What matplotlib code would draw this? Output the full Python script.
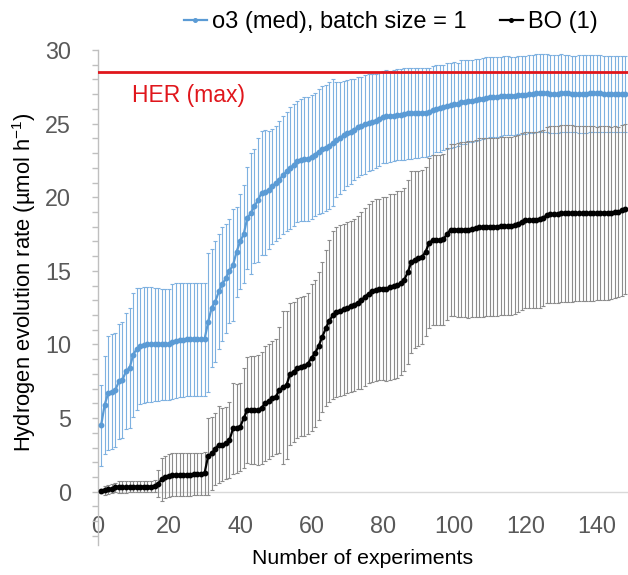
import numpy as np
import matplotlib
matplotlib.use("Agg")
import matplotlib.pyplot as plt
from matplotlib.ticker import MultipleLocator

plt.rcParams['font.family'] = ['Liberation Sans', 'DejaVu Sans']
plt.rcParams['mathtext.default'] = 'regular'

# experiment index 1..148
experiments = np.arange(1, 149)

o3_mean = [
    4.5, 5.9, 6.7, 6.8, 6.9, 7.5, 7.6, 8.2, 8.4, 9.3,
    9.7, 9.9, 9.95, 10.0, 10.0, 10.0, 10.0, 10.0, 10.0, 10.0,
    10.2, 10.25, 10.3, 10.3, 10.35, 10.35, 10.35, 10.35, 10.35, 10.35,
    11.5, 12.5, 12.9, 13.6, 14.1, 14.5, 15.0, 15.4, 16.3, 17.0,
    17.5, 18.6, 18.9, 19.4, 19.8, 20.3, 20.35, 20.5, 20.75, 20.95,
    21.2, 21.5, 21.75, 22.0, 22.2, 22.45, 22.55, 22.6, 22.6, 22.75,
    22.9, 23.1, 23.25, 23.35, 23.5, 23.7, 23.9, 24.05, 24.2, 24.35,
    24.45, 24.6, 24.75, 24.85, 24.95, 25.05, 25.1, 25.2, 25.3, 25.45,
    25.5, 25.5, 25.55, 25.6, 25.6, 25.65, 25.7, 25.7, 25.7, 25.7,
    25.75, 25.75, 25.8, 25.9, 26.0, 26.05, 26.1, 26.2, 26.25, 26.3,
    26.3, 26.45, 26.5, 26.55, 26.55, 26.6, 26.65, 26.7, 26.75, 26.8,
    26.8, 26.8, 26.85, 26.9, 26.9, 26.9, 26.9, 26.95, 26.95, 26.95,
    27.0, 27.0, 27.05, 27.05, 27.05, 27.05, 27.0, 27.0, 27.0, 27.05,
    27.05, 27.05, 27.0, 27.0, 27.0, 27.0, 27.0, 27.05, 27.05, 27.05,
    27.05, 27.0, 27.0, 27.0, 27.0, 27.0, 27.0, 27.0,
]
o3_err = [
    2.75, 3.35, 3.9, 3.9, 3.85, 3.9, 3.95, 3.95, 4.1, 4.2,
    4.15, 3.95, 3.95, 3.9, 3.9, 3.85, 3.85, 3.8, 3.8, 3.8,
    3.9, 3.9, 3.85, 3.85, 3.85, 3.85, 3.85, 3.85, 3.85, 3.85,
    4.7, 4.0, 4.1, 3.9, 3.85, 3.7, 3.55, 3.8, 3.05, 3.25,
    3.3, 3.45, 4.1, 3.85, 4.2, 4.2, 4.25, 4.0, 3.9, 3.9,
    3.95, 4.0, 4.05, 4.15, 4.15, 4.1, 4.15, 4.2, 4.2, 4.2,
    4.2, 4.25, 4.3, 4.3, 4.3, 4.3, 3.9, 3.8, 3.7, 3.6,
    3.55, 3.45, 3.4, 3.35, 3.35, 3.3, 3.25, 3.2, 3.2, 3.15,
    3.15, 3.1, 3.1, 3.1, 3.1, 3.1, 3.1, 3.1, 3.05, 3.05,
    3.05, 3.05, 3.0, 3.0, 2.95, 2.95, 2.9, 2.9, 2.9, 2.9,
    2.85, 2.85, 2.85, 2.8, 2.8, 2.8, 2.75, 2.75, 2.75, 2.7,
    2.7, 2.7, 2.7, 2.7, 2.7, 2.65, 2.65, 2.65, 2.65, 2.65,
    2.65, 2.65, 2.65, 2.65, 2.65, 2.65, 2.65, 2.65, 2.65, 2.65,
    2.6, 2.6, 2.6, 2.6, 2.65, 2.65, 2.65, 2.6, 2.6, 2.6,
    2.6, 2.6, 2.6, 2.6, 2.6, 2.6, 2.6, 2.6,
]

bo_mean = [
    0.05, 0.1, 0.15, 0.2, 0.3, 0.3, 0.3, 0.3, 0.35, 0.35,
    0.35, 0.35, 0.35, 0.35, 0.35, 0.4, 0.55, 0.85, 1.0, 1.1,
    1.15, 1.15, 1.15, 1.15, 1.15, 1.15, 1.2, 1.2, 1.2, 1.25,
    2.4, 2.6, 2.9, 3.2, 3.2, 3.3, 3.5, 4.3, 4.3, 4.4,
    5.0, 5.55, 5.55, 5.55, 5.55, 5.7, 6.0, 6.15, 6.35, 6.45,
    6.9, 7.1, 7.25, 8.0, 8.15, 8.4, 8.5, 8.55, 8.7, 9.1,
    9.4, 9.9, 10.5, 11.1, 11.6, 12.0, 12.2, 12.3, 12.4, 12.5,
    12.6, 12.7, 12.85, 13.0, 13.25, 13.45, 13.6, 13.7, 13.75, 13.8,
    13.8, 13.9, 13.95, 14.05, 14.15, 14.4, 14.9, 15.6, 15.75, 15.85,
    15.95, 16.3, 16.9, 17.1, 17.1, 17.1, 17.15, 17.5, 17.8, 17.8,
    17.8, 17.8, 17.8, 17.8, 17.85, 17.9, 17.95, 17.95, 18.0, 18.0,
    18.0, 18.0, 18.05, 18.05, 18.05, 18.05, 18.1, 18.2, 18.35, 18.45,
    18.45, 18.45, 18.45, 18.5, 18.6, 18.8, 18.85, 18.85, 18.85, 18.9,
    18.9, 18.9, 18.9, 18.9, 18.9, 18.9, 18.9, 18.9, 18.9, 18.9,
    18.95, 18.95, 18.95, 18.95, 19.0, 19.0, 19.1, 19.2,
]
bo_err = [
    0.15, 0.3, 0.3, 0.3, 0.3, 0.4, 0.4, 0.4, 0.4, 0.4,
    0.4, 0.4, 0.4, 0.4, 0.4, 0.4, 0.9, 1.45, 1.45, 1.45,
    1.45, 1.45, 1.45, 1.45, 1.45, 1.45, 1.45, 1.45, 1.45, 1.45,
    2.6, 2.5, 2.45, 2.6, 2.5, 2.45, 2.6, 3.1, 3.0, 3.0,
    3.4, 3.6, 3.65, 3.7, 3.75, 3.8, 3.9, 3.9, 3.9, 3.9,
    4.3, 5.2, 5.0, 4.8, 4.75, 4.75, 4.75, 4.75, 4.8, 5.0,
    5.0, 5.0, 5.1, 5.3, 5.5, 5.7, 5.8, 5.8, 5.8, 5.8,
    5.8, 5.85, 5.9, 6.0, 6.05, 6.1, 6.15, 6.15, 6.15, 6.2,
    6.25, 6.3, 6.3, 6.35, 6.25, 6.2, 6.25, 6.2, 6.0, 5.95,
    5.9, 5.75, 5.75, 5.8, 5.8, 5.8, 5.8, 5.85, 5.85, 5.85,
    5.9, 5.95, 5.95, 6.0, 6.0, 6.0, 6.05, 6.05, 6.05, 6.05,
    6.05, 6.05, 6.05, 6.05, 6.05, 6.05, 6.05, 6.0, 6.0, 6.0,
    6.0, 6.0, 6.0, 6.0, 6.0, 6.0, 6.0, 6.0, 6.0, 6.0,
    6.0, 6.0, 6.0, 5.95, 5.95, 5.95, 5.95, 5.95, 5.95, 5.9,
    5.9, 5.9, 5.9, 5.85, 5.85, 5.8, 5.8, 5.75,
]

her_max = 28.5
x_ticks = [0, 20, 40, 60, 80, 100, 120, 140]
y_ticks = [0, 5, 10, 15, 20, 25, 30]

blue = '#5B9BD5'
blue_err = '#7EB1E0'
gray_err = '#8C8C8C'
red = '#E0161C'
axis_gray = '#BFBFBF'
label_gray = '#595959'

fig = plt.figure(figsize=(6.28, 5.75), dpi=100)
ax = fig.add_axes([0.1553, 0.0527, 0.845, 0.8603])

# -------- series --------
eb_o3 = ax.errorbar(experiments, o3_mean, yerr=o3_err, color=blue, lw=1.6,
                    marker='o', ms=3.2, ecolor=blue_err, elinewidth=0.8,
                    capsize=1.4, capthick=0.8, zorder=3)
eb_bo = ax.errorbar(experiments, bo_mean, yerr=bo_err, color='black', lw=1.6,
                    marker='o', ms=3.2, ecolor=gray_err, elinewidth=0.8,
                    capsize=1.4, capthick=0.8, zorder=4)

ax.axhline(her_max, color=red, lw=2.0, zorder=5)
ax.text(9.8, 26.9, 'HER (max)', color=red, fontsize=16.5, ha='left', va='center')
ax.axhline(0, color='#D9D9D9', lw=1.0, zorder=1)

# -------- axes --------
ax.set_xlim(0, 148.8)
ax.set_ylim(-3.6, 30)
for s in ['top', 'right', 'bottom']:
    ax.spines[s].set_visible(False)
ax.spines['left'].set_color(axis_gray)
ax.spines['left'].set_linewidth(1.0)
ax.spines['bottom'].set_position(('data', -1.4))

ax.set_xticks(x_ticks)
ax.set_yticks(y_ticks)
ax.yaxis.set_minor_locator(MultipleLocator(1))
ax.tick_params(axis='x', length=0, pad=2, labelsize=16.8, labelcolor=label_gray)
ax.tick_params(axis='y', which='both', length=4, color=axis_gray, width=1.0,
               labelsize=16.8, labelcolor=label_gray, pad=15)

ax.set_xlabel('Number of experiments', fontsize=15.3, labelpad=8)
ax.set_ylabel('Hydrogen evolution rate (µmol h$^{-1}$)', fontsize=15.8)
ax.yaxis.set_label_coords(-0.112, 0.53)

fig.legend(handles=[eb_o3[0], eb_bo[0]],
           labels=['o3 (med), batch size = 1', 'BO (1)'],
           loc='center', bbox_to_anchor=(0.622, 0.962), ncol=2, frameon=False,
           fontsize=17, handlelength=1.0, handletextpad=0.2, columnspacing=1.4,
           markerscale=0.8)

fig.savefig('out.png', dpi=100)
